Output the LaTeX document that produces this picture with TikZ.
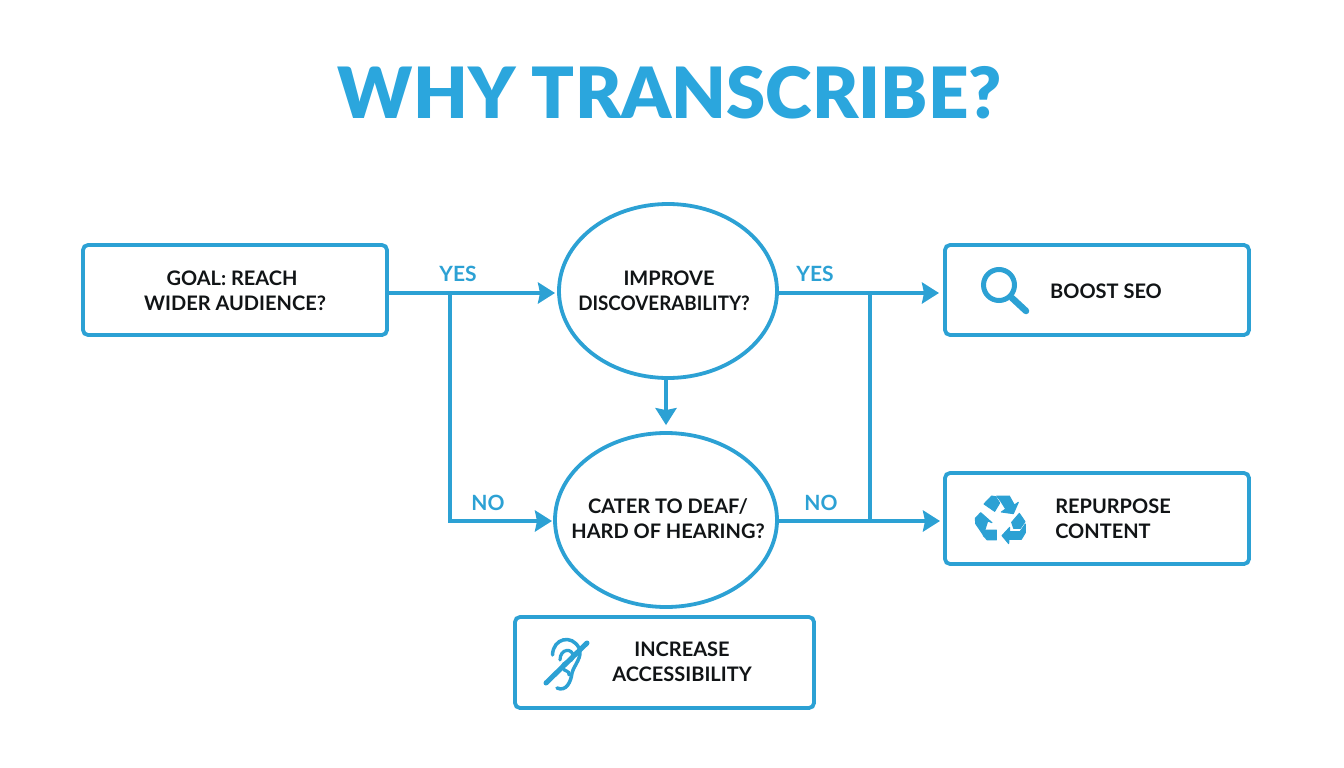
\documentclass[tikz,border=0pt]{standalone}
\usepackage{fontspec}
\usepackage{graphicx}
\setmainfont{Lato}
\newfontfamily\heavyfont{Lato Black}
\usetikzlibrary{arrows.meta,shapes.geometric,calc}
\definecolor{brand}{HTML}{2CA1D4}
\definecolor{headline}{HTML}{2BA6DD}
\definecolor{ink}{HTML}{111416}
\tikzset{
  x=1pt,y=-1pt,
  panel/.style={draw=brand,line width=3.8pt,rounded corners=5pt,inner sep=0,fill=white},
  query/.style={draw=brand,line width=3.8pt,ellipse,inner sep=0,fill=white},
  flow/.style={draw=brand,line width=3.8pt,-{Stealth[inset=2pt,length=17pt,width=21pt]}},
  wire/.style={draw=brand,line width=3.8pt},
  body/.style={text=ink,font=\fontsize{20}{25}\selectfont\bfseries,align=center,inner sep=0},
  tag/.style={text=brand,font=\fontsize{21}{25}\selectfont\bfseries,inner sep=0},
}
\begin{document}
\begin{tikzpicture}
\useasboundingbox[fill=white] (0,0) rectangle (1344,768);
\node[text=headline,font=\fontsize{75}{80}\selectfont\heavyfont,inner sep=0] (title) at (670,93) {\resizebox{664pt}{!}{\vphantom{H}WHY TRANSCRIBE?}};
% boxes
\node[panel,minimum width=304pt,minimum height=90pt] (goal) at (235,290) {};
\node[panel,minimum width=304pt,minimum height=90pt] (seo) at (1097,290) {};
\node[panel,minimum width=304pt,minimum height=91pt] (rep) at (1097,518.5) {};
\node[panel,minimum width=299pt,minimum height=91pt] (acc) at (664.5,662.5) {};
\node[query,minimum width=218pt,minimum height=174pt] (disc) at (668,291) {};
\node[query,minimum width=222pt,minimum height=174pt] (deaf) at (666,520) {};
% labels
\node[body] (tgoal) at (235,290.5) {\hspace{-6pt}GOAL: REACH\\WIDER AUDIENCE?};
\node[body] (tdisc) at (664,290.5) {\hspace{10pt}IMPROVE\\\scalebox{0.94}[1]{DISCOVERABILITY?}};
\node[body] (tdeaf) at (668,518.5) {CATER TO DEAF/\\HARD OF HEARING?};
\node[body] (tseo) at (1106,291) {BOOST SEO};
\node[body,align=left] (trep) at (1113,518.5) {REPURPOSE\\CONTENT};
\node[body] (tacc) at (682,661.5) {INCREASE\\ACCESSIBILITY};
\node[tag] (y1) at (458,274) {YES};
\node[tag] (y2) at (815,274) {YES};
\node[tag] (n1) at (488,503) {NO};
\node[tag] (n2) at (821,503) {NO};
% connectors
\coordinate (a) at (450,293);
\coordinate (b) at (450,521);
\coordinate (c) at (870,293);
\coordinate (d) at (870,521);
\draw[flow] (goal.east |- a) -- (555,293);
\draw[wire] (a) -- (b);
\draw[flow] ([xshift=-1.9pt]b) -- (552,521);
\draw[flow] (deaf.north |- disc.south) -- ([yshift=6pt]deaf.north);
\draw[flow] (777,293) -- (939,293);
\draw[flow] (777,521) -- (940,521);
\draw[wire] (c) -- (d);
% magnifier
\draw[brand,line width=5pt] (999,285) circle (15.5);
\draw[brand,line width=6.5pt,line cap=round] (1012,298) -- (1026,311);
% recycling
\begin{scope}[shift={(960,485)},x=0.3333pt,y=-0.3333pt,fill=brand,draw=brand,line width=1pt,line join=round]
\filldraw (72,57) -- (95,33) -- (107,35) -- (119,54) -- (104,79) -- cycle;
\filldraw (110,33) -- (148,33) -- (163,60) -- (175,52) -- (160,86) -- (124,81) -- (137,72) -- (122,48) -- cycle;
\filldraw (46,100) -- (62,83) -- (96,113) -- (83,108) -- (70,150) -- (47,116) -- cycle;
\filldraw (72,135) -- (109,135) -- (109,165) -- (82,165) -- (70,152) -- cycle;
\filldraw (155,112) -- (178,85) -- (195,110) -- (181,130) -- (161,130) -- cycle;
\filldraw (196,117) -- (196,143) -- (184,163) -- (147,163) -- (146,176) -- (126,152) -- (149,127) -- (149,140) -- (180,140) -- cycle;
\end{scope}
% ear
\draw[brand,line width=3.5pt,line cap=round] (552.5,655) .. controls (553,638) and (572,634) .. (579,648) .. controls (583,657) and (574,665) .. (572,673) .. controls (571,682) and (566,692) .. (557,688);
\draw[brand,line width=3.2pt,line cap=round] (560,660) .. controls (560,648) and (573,648) .. (573,656) .. controls (573,664) and (561,660) .. (563,668) .. controls (564,672) and (570,670) .. (569,675);
\draw[brand,line width=5pt,line cap=round] (546,683) -- (587,643);
\end{tikzpicture}
\end{document}
